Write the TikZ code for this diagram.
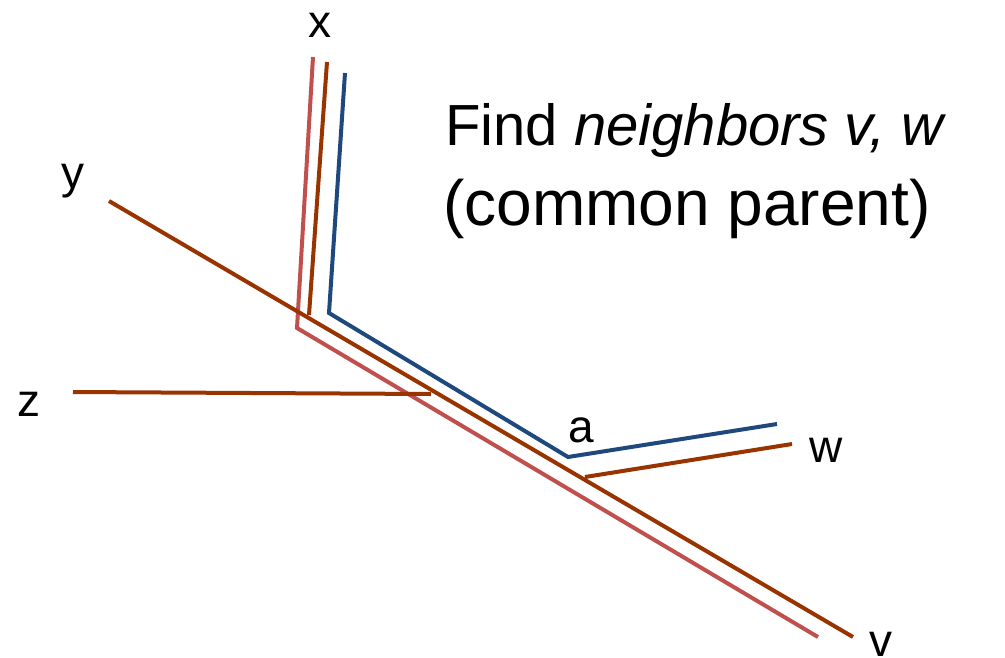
\documentclass[tikz,border=0pt]{standalone}
\usepackage{fontspec}
\setmainfont{Liberation Sans}
\definecolor{pinkline}{HTML}{C0504D}
\definecolor{brownline}{HTML}{993300}
\definecolor{blueline}{HTML}{1F497D}
\begin{document}
\begin{tikzpicture}[x=1pt,y=-1pt,
  treeline/.style={line width=4pt,line join=miter},
  lbl/.style={inner sep=0pt,anchor=base,font=\fontsize{46}{50}\selectfont},
  title/.style={inner sep=0pt,anchor=base west}]
\useasboundingbox (0,0) rectangle (1005,657);
% coordinates
\coordinate (pxtop) at (313,57);
\coordinate (pcorner) at (297,328);
\coordinate (pvend) at (818,637);
\coordinate (bxtop) at (327,62);
\coordinate (bxbot) at (309,315);
\coordinate (bystart) at (109,201);
\coordinate (bvend) at (853,637);
\coordinate (bzstart) at (73,392);
\coordinate (bzend) at (431,394);
\coordinate (bwstart) at (585,477);
\coordinate (bwend) at (792,444);
\coordinate (lxtop) at (345,73);
\coordinate (lcorner) at (329,313);
\coordinate (lacorner) at (568,457);
\coordinate (lwend) at (777,424);
% lines
\draw[treeline,pinkline] (pxtop) -- (pcorner) -- (pvend);
\draw[treeline,brownline] (bxtop) -- (bxbot);
\draw[treeline,brownline] (bystart) -- (bvend);
\draw[treeline,brownline] (bzstart) -- (bzend);
\draw[treeline,brownline] (bwstart) -- (bwend);
\draw[treeline,blueline] (lxtop) -- (lcorner) -- (lacorner) -- (lwend);
% labels
\node[lbl] (lx) at (320,37) {x};
\node[lbl] (ly) at (73,188) {y};
\node[lbl] (lz) at (29,416) {z};
\node[lbl] (la) at (581,442) {a};
\node[lbl] (lw) at (826,462) {w};
\node[lbl] (lv) at (881,656) {v};
\node[title,font=\fontsize{58}{68}\selectfont] (t1) at (445,145) {Find \textit{neighbors v, w}};
\node[title,font=\fontsize{64}{70}\selectfont] (t2) at (443,225) {(common parent)};
\end{tikzpicture}
\end{document}
